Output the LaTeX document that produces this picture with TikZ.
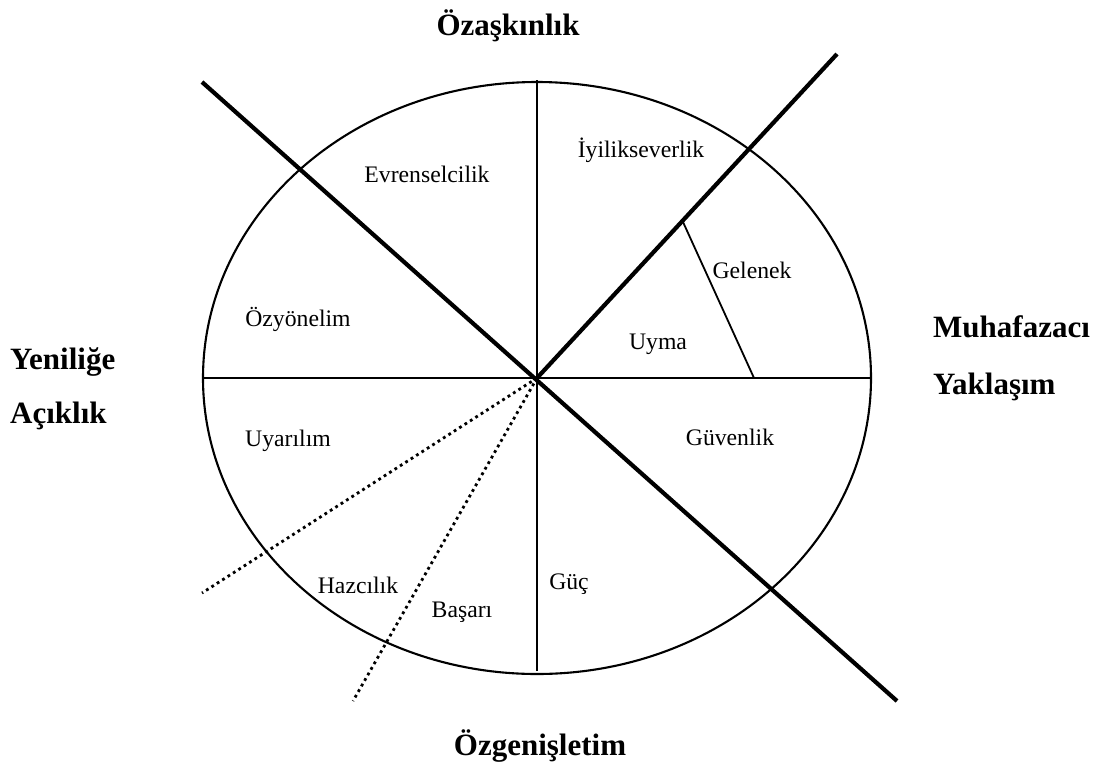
\documentclass[tikz,border=0pt]{standalone}
\usepackage{fontspec}
\setmainfont{Liberation Serif}
\begin{document}
\begin{tikzpicture}[x=1pt,y=-1pt,
  thin line/.style={line width=2.1pt},
  thick line/.style={line width=4.2pt},
  dot line/.style={line width=2.8pt,dash pattern=on 2.8pt off 3.6pt},
  value/.style={font=\fontsize{23.7}{28}\selectfont,anchor=base,inner sep=0pt},
  axis/.style={font=\bfseries\fontsize{31}{36}\selectfont,anchor=base,inner sep=0pt}]
\useasboundingbox (0,0) rectangle (1102,763);

% centre, rim points and line ends
\coordinate (O) at (537,378);
\coordinate (top) at (537,80);
\coordinate (bottom) at (537,671);
\coordinate (left) at (203,378);
\coordinate (right) at (870,378);
\coordinate (nw) at (202,82);
\coordinate (se) at (897,701);
\coordinate (ne) at (837,54);
\coordinate (tradA) at (683,222);
\coordinate (tradB) at (754,378);
\coordinate (dotA) at (202,593);
\coordinate (dotB) at (353,701);

% circle of values
\draw[thin line] (O) ellipse [x radius=334, y radius=296];
\draw[thin line] (top) -- (bottom);
\draw[thin line] (left) -- (right);
\draw[line width=1.8pt] (tradA) -- (tradB);
\draw[thick line] (nw) -- (se);
\draw[thick line] (O) -- (ne);
\draw[dot line] (O) -- (dotA);
\draw[dot line] (O) -- (dotB);

% value labels
\node[value] (evr) at (427,182) {Evrenselcilik};
\node[value] (iyi) at (641,157) {İyilikseverlik};
\node[value] (gel) at (752,278) {Gelenek};
\node[value] (uym) at (658,349) {Uyma};
\node[value] (ozy) at (298,326) {Özyönelim};
\node[value] (uya) at (288,446) {Uyarılım};
\node[value] (guv) at (730,445) {Güvenlik};
\node[value] (haz) at (358,593) {Hazcılık};
\node[value] (bas) at (462,617) {Başarı};
\node[value] (guc) at (569,589) {Güç};

% dimension labels
\node[axis] (oza) at (508,35) {Özaşkınlık};
\node[axis,anchor=base west] (muh) at (933,337) {Muhafazacı};
\node[axis,anchor=base west] (yak) at (933,394) {Yaklaşım};
\node[axis,anchor=base west] (yen) at (10,369) {Yeniliğe};
\node[axis,anchor=base west] (aci) at (10,423) {Açıklık};
\node[axis] (ozg) at (540,755) {Özgenişletim};
\end{tikzpicture}
\end{document}
